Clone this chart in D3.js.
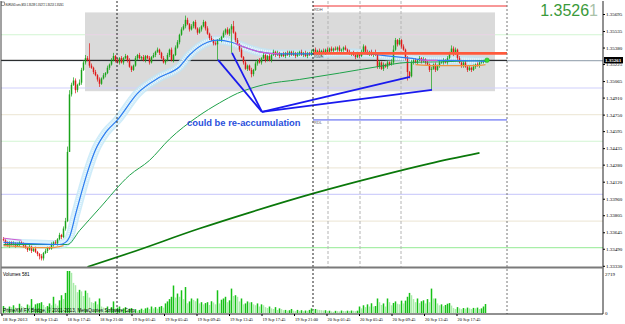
<!DOCTYPE html>
<html>
<head>
<meta charset="utf-8">
<script src="https://cdn.jsdelivr.net/npm/d3@7"></script>
<style>
  body { margin: 0; background: #fff; }
  svg { display: block; font-family: "Liberation Sans", Arial, sans-serif; }
</style>
</head>
<body>
<div id="chart"></div>
<script>
// EURUSD M15 - prices kept in pips above 1.3300 to keep the lists short
var pipBase = 1.33;
var open0 = 58;
var closePips = [
  57,54,52,55,53,54,52,53,55,54,52,50,48,51,47,49,46,44,42,40,45,
  47,50,49,53,55,54,58,62,60,68,75,
  140,194,203,207,198,203,205,217,224,
  228,226,221,219,215,212,208,204,209,212,
  214,219,222,226,230,226,224,228,224,228,
  230,226,220,217,221,228,231,228,229,226,
  230,228,224,229,231,234,236,233,228,224,
  226,231,236,226,231,238,243,250,255,258,
  264,260,255,258,262,256,252,255,258,262,
  256,251,247,245,242,241,245,245,248,252,
  255,251,255,258,252,245,241,236,229,224,
  218,221,217,213,217,223,226,224,228,231,
  226,230,226,231,234,231,233,230,232,230,
  233,231,234,231,233,230,232,234,231,233,
  230,233,231,234,236,233,235,232,235,233,
  236,234,237,235,237,236,238,235,236,238,
  236,234,232,233,231,229,232,230,234,239,
  234,232,234,231,233,231,220,224,218,222,
  220,224,222,224,236,245,241,245,239,236,
  228,215,211,224,226,224,226,228,225,227,
  224,222,217,218,222,217,221,224,224,226,
  224,228,233,237,232,236,228,224,221,224,
  220,217,219,217,220,222,221,224,224,225,226
];
// wick length above / below the body, pips
var wickUp = [
  2,1,2,1,1,2,1,2,1,1, 1,2,1,2,1,1,2,1,1,2, 1,2,1,1,2,1,2,1,2,1,
  2,3,5,4,2,3,2,1,3,2, 2,3,2,16,2,1,2,1,2,1, 2,1,2,1,2,3,1,2,1,2,
  1,2,1,2,1,1,2,1,2,1, 2,1,1,2,1,2,1,2,1,1, 2,1,2,1,2,1,2,2,1,2,
  2,4,2,1,2,1,2,1,2,1, 2,1,2,1,2,1,2,1,2,1, 2,1,2,1,2,5,1,2,1,2,
  1,2,1,1,2,1,2,1,2,1, 2,1,1,2,1,2,1,2,1,1, 2,1,2,1,1,2,1,2,1,2,
  1,2,1,1,2,1,2,1,2,1, 2,1,2,1,2,1,2,1,2,1, 1,2,1,2,1,2,1,2,1,2,
  2,1,2,1,2,1,3,2,2,1, 2,1,2,1,3,4,2,1,2,1, 2,1,2,1,2,1,2,1,2,1,
  2,1,2,1,2,1,2,1,2,1, 2,1,2,1,3,2,2,1,2,1, 1,2,1,2,1,2,1,2,1,2,
  1,1
];
var wickDn = [
  1,2,1,2,1,1,2,1,2,1, 2,1,2,1,2,1,1,2,3,2, 2,1,2,1,1,2,1,2,1,2,
  1,2,1,0,2,1,3,2,1,2, 1,2,1,2,1,2,1,2,3,1, 1,2,1,2,1,1,2,1,2,1,
  2,1,2,1,2,1,1,2,1,2, 1,2,1,2,1,1,2,1,2,1, 1,2,1,2,1,2,1,1,2,1,
  1,2,1,2,1,2,1,2,1,2, 1,2,1,2,1,2,1,15,1,2, 1,2,1,2,22,1,2,1,2,1,
  2,1,2,1,3,2,1,2,1,2, 1,2,1,1,2,1,2,1,2,1, 1,2,1,2,1,1,2,1,2,1,
  2,1,2,1,1,2,1,2,1,2, 1,2,1,2,1,2,1,2,1,2, 2,1,2,1,2,1,2,1,2,1,
  1,2,1,2,1,2,1,2,2,1, 2,1,2,1,1,2,1,2,1,2, 1,2,8,2,1,2,1,2,1,2,
  1,2,1,2,19,1,2,1,2,1, 2,1,2,1,1,2,1,2,1,2, 2,1,2,1,2,1,2,1,2,1,
  1,1
];
var volumes = [
  450,350,300,420,380,500,350,300,600,450, 380,320,550,480,900,400,560,620,640,700,
  520,380,450,620,500,1050,600,480,820,1150, 900,1300,2719,2719,2600,1950,1800,1350,1500,1400,
  1100,1450,1300,1000,700,650,750,560,940,420, 350,300,420,260,380,750,300,350,420,250,
  300,380,200,280,320,180,250,150,200,280, 200,300,350,250,420,300,380,280,400,450,
  350,620,750,900,1050,1780,1000,1260,1050,1470, 900,1680,630,750,940,850,760,940,620,700,
  560,640,700,520,760,680,560,1470,620,860, 940,1050,700,820,1580,1100,1150,1050,750,940,
  560,620,750,680,700,560,500,620,420,560, 500,380,320,420,300,260,380,200,300,250,
  180,200,150,180,260,150,120,200,140,180, 120,160,140,200,300,170,260,220,200,180,
  160,180,120,150,100,80,140,120,100,160, 130,120,150,130,160,140,120,150,420,300,
  500,380,560,420,630,420,450,940,700,520, 620,420,940,700,500,650,750,600,560,800,
  620,800,1050,1300,1150,900,700,940,640,760, 820,620,900,700,1580,940,940,620,500,560,
  440,520,600,640,480,320,260,380,300,250, 320,280,350,300,260,330,300,350,260,300,
  420,581
];

// moving averages, [bar, pips]
var maFast = [[0,55],[28,53],[31,55],[33,60],[36,81],[38,95],[42,121],[46,142],[51,158],[57,170],
  [67,195],[78,210],[88,220],[93,231],[102,243],[107,245],[114,243],[121,238],[128,234],[138,232],
  [153,232],[168,233],[183,232],[193,230],[203,228],[213,226],[223,226],[241,225]];
var maFastFalling = [[116,138],[208,217]];
var maMid = [[0,53],[32,53],[38,66],[48,87],[63,118],[73,132],[83,152],[97,173],[108,186],[117,195],
  [130,203],[148,208],[168,214],[187,220],[202,224],[217,224.5],[241,226]];
var maSlow = [[42,32],[63,45],[98,68],[123,83],[155,101],[188,117.5],[213,129],[238,139]];
var maShortLeft = [[0,52],[8,51],[16,50],[24,50],[30,52]];
var maShortRight = [[206,222],[216,221],[226,221],[236,221],[241,222]];
var maPinkLeft = [[0,59],[4,58],[9,57]];

// price levels and objects
var roundLevels = [1.3550, 1.3500, 1.3475, 1.3450, 1.3425, 1.3400, 1.3375, 1.3350];
var blackLine = 1.3526;
var bid = 1.35261;
var boxBars = [40.75, 245.75];
var boxPrices = [1.3497, 1.3571];
var rangeLines = [{name: "RDH", price: 1.3577}, {name: "RWH", price: 1.35325}, {name: "RDL", price: 1.3470}];
var rangeBars = [154.75, 251.75];
var daySeps = [56.75, 154.75, 251.75];
var hourSeps = [162.25, 178.25, 198.75];
var trendLines = [
  [[107.25,226.4],[129.25,177.5]],
  [[114.25,233],[129.25,177.5]],
  [[129.25,177.5],[203.25,210.4]],
  [[129.25,177.5],[214.25,198.2]]
];
var noteText = "could be re-accumulation";
var noteAt = [91.75, 164];

var priceTicks = [1.35695,1.35535,1.35380,1.35225,1.35065,1.34910,1.34750,1.34595,1.34435,
  1.34280,1.34120,1.33960,1.33805,1.33645,1.33490,1.33330];
var volMax = 2719;
var timeLabels = ["18 Sep 2013","18 Sep 13:45","18 Sep 17:45","18 Sep 21:00","19 Sep 01:45",
  "19 Sep 05:45","19 Sep 09:45","19 Sep 13:45","19 Sep 17:45","19 Sep 21:00","20 Sep 01:45",
  "20 Sep 05:45","20 Sep 09:45","20 Sep 13:45","20 Sep 17:45"];
var timeLabelBars = [-0.75,15.5,31.75,48,64.25,80.5,96.75,113,129.25,145.5,161.75,178,194.25,210.5,226.75];

var p = function(v) { return pipBase + v / 10000; };

var W = 625, H = 324;
var axisX = 603, mainBot = 267, volTop = 269, volBot = 314;

var svg = d3.select("#chart").append("svg")
  .attr("width", W).attr("height", H);

var x = d3.scaleLinear().domain([0, closePips.length - 1]).range([3.5, 485.5]);
var y = d3.scaleLinear().domain([1.33330, 1.35695]).range([265.8, 14]);
var yv = d3.scaleLinear().domain([0, volMax]).range([313, 271]);

var defs = svg.append("defs");
defs.append("clipPath").attr("id", "mainClip")
  .append("rect").attr("x", 1).attr("y", 1).attr("width", axisX - 1).attr("height", mainBot - 1);
defs.append("clipPath").attr("id", "volClip")
  .append("rect").attr("x", 1).attr("y", volTop).attr("width", axisX - 1).attr("height", volBot - volTop);
var fall = defs.append("clipPath").attr("id", "fallClip");
maFastFalling.forEach(function(r) {
  fall.append("rect").attr("x", x(r[0])).attr("y", 0)
    .attr("width", x(r[1]) - x(r[0])).attr("height", H);
});

var main = svg.append("g").attr("clip-path", "url(#mainClip)");

// gray box
main.append("rect")
  .attr("x", x(boxBars[0])).attr("width", x(boxBars[1]) - x(boxBars[0]))
  .attr("y", y(boxPrices[1])).attr("height", y(boxPrices[0]) - y(boxPrices[1]))
  .attr("fill", "#dadada");

// round number levels
var levelColors = ["#d2f5d2","#d0d0fb","#efeadb","#d2f5d2","#efeadb","#d0d0fb","#efeadb","#a8eea8"];
main.selectAll(".level").data(roundLevels).enter().append("line")
  .attr("x1", 1).attr("x2", axisX)
  .attr("y1", function(d) { return y(d); }).attr("y2", function(d) { return y(d); })
  .attr("stroke", function(d, i) { return levelColors[i]; }).attr("stroke-width", 1.2);
main.append("line")
  .attr("x1", x(boxBars[0])).attr("x2", x(boxBars[1]))
  .attr("y1", y(roundLevels[0])).attr("y2", y(roundLevels[0]))
  .attr("stroke", "#eccbe8").attr("stroke-width", 1.2);

// hour separators (main pane only)
main.selectAll(".hsep").data(hourSeps).enter().append("line")
  .attr("x1", function(d) { return x(d); }).attr("x2", function(d) { return x(d); })
  .attr("y1", 1).attr("y2", mainBot)
  .attr("stroke", "#b4b4b4").attr("stroke-dasharray", "3,2");

// black line and bid line
main.append("line").attr("x1", 1).attr("x2", axisX)
  .attr("y1", y(bid) + 0.5).attr("y2", y(bid) + 0.5)
  .attr("stroke", "#8c9aa8");
main.append("line").attr("x1", 1).attr("x2", x(rangeBars[1]))
  .attr("y1", y(blackLine)).attr("y2", y(blackLine))
  .attr("stroke", "#111");

var line = d3.line()
  .x(function(d) { return x(d[0]); })
  .y(function(d) { return y(p(d[1])); })
  .curve(d3.curveMonotoneX);

// blue band
main.append("path").attr("d", line(maFast)).attr("fill", "none")
  .attr("stroke", "#bfe6f7").attr("stroke-width", 9).attr("stroke-opacity", 0.75);
main.append("path").attr("d", line(maFast)).attr("fill", "none")
  .attr("stroke", "#eaf8fe").attr("stroke-width", 6).attr("stroke-dasharray", "1,1");

// candles
var candles = closePips.map(function(c, i) {
  var o = i === 0 ? open0 : closePips[i - 1];
  return { i: i, o: o, c: c, h: Math.max(o, c) + wickUp[i], l: Math.min(o, c) - wickDn[i] };
});
var cg = main.append("g");
cg.selectAll(".wick").data(candles).enter().append("line")
  .attr("x1", function(d) { return x(d.i); }).attr("x2", function(d) { return x(d.i); })
  .attr("y1", function(d) { return y(p(d.h)); }).attr("y2", function(d) { return y(p(d.l)); })
  .attr("stroke", function(d) { return d.c >= d.o ? "#1aa31a" : "#e01818"; })
  .attr("stroke-width", 0.7);
cg.selectAll(".body").data(candles).enter().append("rect")
  .attr("x", function(d) { return x(d.i) - 0.75; }).attr("width", 1.5)
  .attr("y", function(d) { return y(p(Math.max(d.o, d.c))); })
  .attr("height", function(d) { return Math.max(0.8, y(p(Math.min(d.o, d.c))) - y(p(Math.max(d.o, d.c)))); })
  .attr("fill", function(d) { return d.c >= d.o ? "#1aa31a" : "#e01818"; });

// moving averages
main.append("path").attr("d", line(maSlow)).attr("fill", "none")
  .attr("stroke", "#0a780a").attr("stroke-width", 1.7);
main.append("path").attr("d", line(maMid)).attr("fill", "none")
  .attr("stroke", "#1fa24a").attr("stroke-width", 1);
main.append("path").attr("d", line(maFast)).attr("fill", "none")
  .attr("stroke", "#2a7cf0").attr("stroke-width", 1.2);
main.append("path").attr("d", line(maFast)).attr("fill", "none")
  .attr("clip-path", "url(#fallClip)")
  .attr("stroke", "#d25ad2").attr("stroke-width", 1.2);
main.append("path").attr("d", line(maShortLeft)).attr("fill", "none")
  .attr("stroke", "#f0943c").attr("stroke-width", 1.2);
main.append("path").attr("d", line(maShortRight)).attr("fill", "none")
  .attr("stroke", "#f0943c").attr("stroke-width", 1.2);
main.append("path").attr("d", line(maPinkLeft)).attr("fill", "none")
  .attr("stroke", "#d25ad2").attr("stroke-width", 1);
main.append("circle")
  .attr("cx", x(closePips.length - 1) + 1.5).attr("cy", y(bid))
  .attr("r", 2.3).attr("fill", "#33dd33").attr("stroke", "#22aa22").attr("stroke-width", 0.5);

// range lines
var rangeColors = ["#f03030", "#ff5a3c", "#4a55f0"];
var rangeWidths = [1, 2.6, 1];
rangeLines.forEach(function(r, i) {
  main.append("line")
    .attr("x1", x(rangeBars[0])).attr("x2", x(rangeBars[1]))
    .attr("y1", y(r.price)).attr("y2", y(r.price))
    .attr("stroke", rangeColors[i]).attr("stroke-width", rangeWidths[i]);
  main.append("text")
    .attr("x", x(rangeBars[0]) + 1).attr("y", y(r.price) + 4.5)
    .attr("font-size", 4).attr("fill", "#555").text(r.name);
});

// day separators, through both panes
svg.selectAll(".dsep").data(daySeps).enter().append("line")
  .attr("x1", function(d) { return x(d); }).attr("x2", function(d) { return x(d); })
  .attr("y1", 1).attr("y2", volBot)
  .attr("stroke", function(d, i) { return i === 2 ? "#777" : "#222"; })
  .attr("stroke-dasharray", "2,2");

// trend lines + note
trendLines.forEach(function(t) {
  main.append("line")
    .attr("x1", x(t[0][0])).attr("y1", y(p(t[0][1])))
    .attr("x2", x(t[1][0])).attr("y2", y(p(t[1][1])))
    .attr("stroke", "#1a1aee").attr("stroke-width", 1.8);
});
svg.append("text")
  .attr("x", x(noteAt[0])).attr("y", y(p(noteAt[1])))
  .attr("font-size", 9.4).attr("font-weight", "bold").attr("fill", "#2a50dc")
  .text(noteText);

// volume pane
var vg = svg.append("g").attr("clip-path", "url(#volClip)");
vg.selectAll(".vol").data(volumes).enter().append("rect")
  .attr("x", function(d, i) { return x(i) - 0.75; }).attr("width", 1.5)
  .attr("y", function(d) { return yv(d); })
  .attr("height", function(d) { return yv(0) - yv(d); })
  .attr("fill", function(d, i) { return i > 0 && d < volumes[i - 1] ? "#a8eba8" : "#17c117"; });
svg.append("text").attr("x", 3).attr("y", 275.5).attr("font-size", 4.6).attr("fill", "#000")
  .text("Volumes " + volumes[volumes.length - 1]);
svg.append("text").attr("x", 3).attr("y", 312).attr("font-size", 4.6).attr("fill", "#000")
  .attr("textLength", 133).attr("lengthAdjust", "spacingAndGlyphs")
  .text("PrimeXM FX Bridge, \u00a9 2001-2013, MetaQuotes Software Corp.");

// frames
svg.append("line").attr("x1", 1).attr("x2", 1).attr("y1", 1).attr("y2", volBot).attr("stroke", "#444");
svg.append("line").attr("x1", axisX).attr("x2", axisX).attr("y1", 1).attr("y2", volBot).attr("stroke", "#222");
svg.append("line").attr("x1", 1).attr("x2", axisX).attr("y1", mainBot + 0.5).attr("y2", mainBot + 0.5)
  .attr("stroke", "#7a7a7a").attr("stroke-width", 2);
svg.append("line").attr("x1", 1).attr("x2", axisX).attr("y1", volBot).attr("y2", volBot).attr("stroke", "#222");

// price axis
var yAxis = svg.append("g").attr("transform", "translate(" + axisX + ",0)")
  .call(d3.axisRight(y).tickValues(priceTicks).tickSize(2).tickPadding(1).tickFormat(d3.format(".5f")));
yAxis.select(".domain").remove();
yAxis.selectAll("text").attr("font-size", 5).attr("font-family", "Liberation Serif, serif").attr("fill", "#000");
yAxis.selectAll("line").attr("stroke", "#000");

// current price box
svg.append("rect").attr("x", axisX + 1).attr("y", y(bid) - 3.2).attr("width", 19).attr("height", 6.4).attr("fill", "#000");
svg.append("text").attr("x", axisX + 2).attr("y", y(bid) + 2).attr("font-size", 5)
  .attr("font-family", "Liberation Serif, serif").attr("fill", "#fff").attr("font-weight", "bold")
  .text(d3.format(".5f")(bid));

// volume axis
var vAxis = svg.append("g").attr("transform", "translate(" + axisX + ",0)")
  .call(d3.axisRight(yv).tickValues([0, volMax]).tickSize(0).tickPadding(2).tickFormat(d3.format("d")));
vAxis.select(".domain").remove();
vAxis.selectAll("text").attr("font-size", 5).attr("font-family", "Liberation Serif, serif").attr("fill", "#000");
vAxis.selectAll(".tick").filter(function(d) { return d === volMax; }).select("text").attr("dy", "0.9em");

// time axis
var tg = svg.append("g");
tg.selectAll(".tt").data(timeLabelBars).enter().append("line")
  .attr("x1", function(d) { return x(d); }).attr("x2", function(d) { return x(d); })
  .attr("y1", volBot).attr("y2", volBot + 2).attr("stroke", "#000");
tg.selectAll(".tl").data(timeLabels).enter().append("text")
  .attr("x", function(d, i) { return x(timeLabelBars[i]) + 0.5; })
  .attr("y", 321)
  .attr("font-size", 4.6).attr("font-family", "Liberation Serif, serif")
  .attr("textLength", function(d, i) { return i === 0 ? 25 : 23; })
  .attr("lengthAdjust", "spacingAndGlyphs")
  .text(function(d) { return d; });

// title and big price
svg.append("rect").attr("x", 1.5).attr("y", 2).attr("width", 3).attr("height", 3.5)
  .attr("fill", "#fff").attr("stroke", "#333").attr("stroke-width", 0.5);
svg.append("text").attr("x", 5.5).attr("y", 6).attr("font-size", 4.4).attr("fill", "#000")
  .attr("textLength", 58).attr("lengthAdjust", "spacingAndGlyphs")
  .text("EURUSD.sets,M15  1.35239 1.35272 1.35213 1.35261");
var big = svg.append("text").attr("x", 598).attr("y", 15.5).attr("text-anchor", "end")
  .attr("font-size", 16);
var bidText = d3.format(".5f")(bid);
big.append("tspan").attr("fill", "#3a9a3a").text(bidText.slice(0, -1));
big.append("tspan").attr("fill", "#a9c2a9").text(bidText.slice(-1));
</script>
</body>
</html>
